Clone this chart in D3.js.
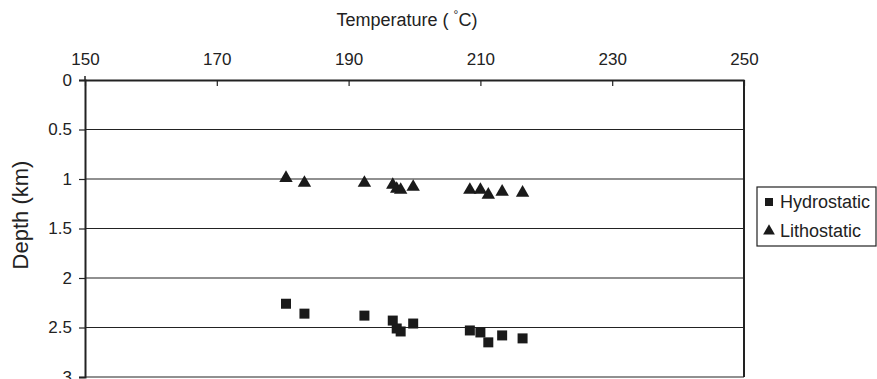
<!DOCTYPE html>
<html>
<head>
<meta charset="utf-8">
<script src="https://cdn.jsdelivr.net/npm/d3@7/dist/d3.min.js"></script>
<style>
  body { margin: 0; background: #fff; }
  svg { display: block; font-family: "Liberation Sans", Arial, sans-serif; }
  .grid line { stroke: #222; stroke-width: 1.2; }
</style>
</head>
<body>
<div class="wrapper"></div>
<script>
// temperatures (°C) for the wells, same for both pressure models
var temps = [180.5, 183.3, 192.4, 196.7, 197.3, 197.9, 199.8, 208.4, 210.0, 211.2, 213.3, 216.4];
var hydrostatic = [2.26, 2.36, 2.38, 2.43, 2.51, 2.54, 2.46, 2.53, 2.55, 2.65, 2.58, 2.61];
var lithostatic = [0.99, 1.04, 1.04, 1.06, 1.10, 1.11, 1.08, 1.11, 1.11, 1.16, 1.13, 1.14];
var xTicks = [150, 170, 190, 210, 230, 250];
var yTicks = [0, 0.5, 1, 1.5, 2, 2.5, 3];
var seriesNames = ["Hydrostatic", "Lithostatic"];

var width = 877, height = 379;
var plotLeft = 85, plotRight = 744, plotTop = 80, plotBottom = 377;

var svg = d3.select(".wrapper").append("svg")
    .attr("width", width)
    .attr("height", height);

var x = d3.scaleLinear().domain([150, 250]).range([plotLeft, plotRight]);
var y = d3.scaleLinear().domain([0, 3]).range([plotTop, plotBottom]);

// horizontal gridlines
svg.append("g")
    .attr("class", "grid")
    .selectAll("line")
    .data(yTicks.slice(1))
    .enter().append("line")
    .attr("x1", plotLeft).attr("x2", plotRight)
    .attr("y1", function(d) { return y(d); })
    .attr("y2", function(d) { return y(d); });

// top axis, ticks point into the plot
var xAxis = svg.append("g")
    .attr("transform", "translate(0," + plotTop + ")")
    .call(d3.axisTop(x).tickValues(xTicks).tickSizeInner(-6).tickSizeOuter(0).tickPadding(15));
xAxis.select(".domain").attr("stroke", "#222").attr("stroke-width", 2);
xAxis.selectAll(".tick line").attr("stroke", "#222").attr("stroke-width", 1.2);
xAxis.selectAll(".tick text").attr("font-size", 17).attr("fill", "#222")
    .attr("font-family", "Liberation Sans, Arial, sans-serif");

// left axis
var yAxis = svg.append("g")
    .attr("transform", "translate(" + plotLeft + ",0)")
    .call(d3.axisLeft(y).tickValues(yTicks).tickFormat(d3.format("")).tickSize(6).tickPadding(7));
yAxis.select(".domain").attr("stroke", "#222").attr("stroke-width", 2);
yAxis.selectAll(".tick line").attr("stroke", "#222").attr("stroke-width", 1.2);
yAxis.selectAll(".tick text").attr("font-size", 17).attr("fill", "#222")
    .attr("font-family", "Liberation Sans, Arial, sans-serif");
// small stub of the left axis above the top line
yAxis.append("line")
    .attr("y1", plotTop - 4).attr("y2", plotTop)
    .attr("stroke", "#222").attr("stroke-width", 1.5);

// right border
svg.append("line")
    .attr("x1", plotRight).attr("x2", plotRight)
    .attr("y1", plotTop).attr("y2", plotBottom)
    .attr("stroke", "#222").attr("stroke-width", 2);

// titles
var title = svg.append("text")
    .attr("x", 407)
    .attr("y", 26)
    .attr("text-anchor", "middle")
    .attr("font-size", 18)
    .attr("fill", "#222")
    .text("Temperature ( ");
title.append("tspan").attr("font-size", 12).attr("dy", -7).text("°");
title.append("tspan").attr("dy", 7).text("C)");

svg.append("text")
    .attr("transform", "translate(28,215) rotate(-90)")
    .attr("text-anchor", "middle")
    .attr("font-size", 22)
    .attr("fill", "#222")
    .text("Depth (km)");

var square = d3.symbol().type(d3.symbolSquare).size(100);
var triangle = d3.symbol().type(d3.symbolTriangle).size(78);

svg.append("g").selectAll("path")
    .data(temps)
    .enter().append("path")
    .attr("d", square)
    .attr("fill", "#1a1a1a")
    .attr("transform", function(d, i) { return "translate(" + x(d) + "," + y(hydrostatic[i]) + ")"; });

svg.append("g").selectAll("path")
    .data(temps)
    .enter().append("path")
    .attr("d", triangle)
    .attr("fill", "#1a1a1a")
    .attr("transform", function(d, i) { return "translate(" + x(d) + "," + y(lithostatic[i]) + ")"; });

// legend
var legend = svg.append("g").attr("transform", "translate(757,187)");
legend.append("rect")
    .attr("width", 119).attr("height", 59)
    .attr("fill", "#fff").attr("stroke", "#222").attr("stroke-width", 1.2);
var items = legend.selectAll("g.item")
    .data(seriesNames)
    .enter().append("g")
    .attr("class", "item")
    .attr("transform", function(d, i) { return "translate(0," + (15 + i * 29) + ")"; });
items.append("path")
    .attr("d", function(d, i) {
        return i === 0 ? d3.symbol().type(d3.symbolSquare).size(64)() : d3.symbol().type(d3.symbolTriangle).size(60)();
    })
    .attr("transform", "translate(12,0)")
    .attr("fill", "#1a1a1a");
items.append("text")
    .attr("x", 23)
    .attr("dy", "0.36em")
    .attr("font-size", 18)
    .attr("fill", "#222")
    .text(function(d) { return d; });
</script>
</body>
</html>
